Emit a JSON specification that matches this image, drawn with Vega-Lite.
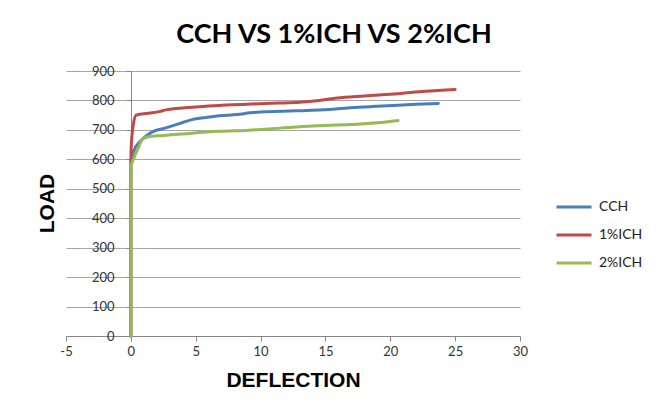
{
  "$schema": "https://vega.github.io/schema/vega-lite/v6.json",
  "width": 454,
  "height": 265,
  "autosize": "none",
  "padding": {"left": 66, "top": 71, "right": 145, "bottom": 75},
  "background": "white",
  "config": {
    "view": {"stroke": null},
    "font": "Lato"
  },
  "title": {
    "text": "CCH VS 1%ICH VS 2%ICH",
    "font": "Lato",
    "fontSize": 27,
    "fontWeight": "bold",
    "color": "#000000",
    "anchor": "middle",
    "frame": "group",
    "dx": 41,
    "offset": 16
  },
  "data": {
    "values": [
      {"series": "CCH", "i": 0, "x": 0, "y": 0},
      {"series": "CCH", "i": 1, "x": 0, "y": 580},
      {"series": "CCH", "i": 2, "x": 0.1, "y": 610},
      {"series": "CCH", "i": 3, "x": 0.2, "y": 626},
      {"series": "CCH", "i": 4, "x": 0.7, "y": 660},
      {"series": "CCH", "i": 5, "x": 1.2, "y": 680},
      {"series": "CCH", "i": 6, "x": 1.7, "y": 694},
      {"series": "CCH", "i": 7, "x": 2.7, "y": 707},
      {"series": "CCH", "i": 8, "x": 3.8, "y": 722},
      {"series": "CCH", "i": 9, "x": 4.7, "y": 735},
      {"series": "CCH", "i": 10, "x": 5.8, "y": 742},
      {"series": "CCH", "i": 11, "x": 6.8, "y": 748},
      {"series": "CCH", "i": 12, "x": 8.2, "y": 752},
      {"series": "CCH", "i": 13, "x": 9.2, "y": 758},
      {"series": "CCH", "i": 14, "x": 10, "y": 761},
      {"series": "CCH", "i": 15, "x": 11.7, "y": 763},
      {"series": "CCH", "i": 16, "x": 13, "y": 765},
      {"series": "CCH", "i": 17, "x": 14.8, "y": 768},
      {"series": "CCH", "i": 18, "x": 16.9, "y": 775},
      {"series": "CCH", "i": 19, "x": 18.5, "y": 779},
      {"series": "CCH", "i": 20, "x": 20.6, "y": 784},
      {"series": "CCH", "i": 21, "x": 22, "y": 787},
      {"series": "CCH", "i": 22, "x": 23.7, "y": 790},
      {"series": "1%ICH", "i": 0, "x": 0, "y": 0},
      {"series": "1%ICH", "i": 1, "x": 0, "y": 590},
      {"series": "1%ICH", "i": 2, "x": 0.05, "y": 660},
      {"series": "1%ICH", "i": 3, "x": 0.2, "y": 720},
      {"series": "1%ICH", "i": 4, "x": 0.4, "y": 750},
      {"series": "1%ICH", "i": 5, "x": 1, "y": 755},
      {"series": "1%ICH", "i": 6, "x": 1.65, "y": 758},
      {"series": "1%ICH", "i": 7, "x": 2.2, "y": 762},
      {"series": "1%ICH", "i": 8, "x": 2.7, "y": 768},
      {"series": "1%ICH", "i": 9, "x": 4.2, "y": 775},
      {"series": "1%ICH", "i": 10, "x": 6.8, "y": 783},
      {"series": "1%ICH", "i": 11, "x": 9.3, "y": 788},
      {"series": "1%ICH", "i": 12, "x": 11.4, "y": 791},
      {"series": "1%ICH", "i": 13, "x": 13, "y": 794},
      {"series": "1%ICH", "i": 14, "x": 14.5, "y": 800},
      {"series": "1%ICH", "i": 15, "x": 15.9, "y": 808},
      {"series": "1%ICH", "i": 16, "x": 18, "y": 815},
      {"series": "1%ICH", "i": 17, "x": 20.6, "y": 823},
      {"series": "1%ICH", "i": 18, "x": 22.7, "y": 831},
      {"series": "1%ICH", "i": 19, "x": 25, "y": 837},
      {"series": "2%ICH", "i": 0, "x": 0, "y": 0},
      {"series": "2%ICH", "i": 1, "x": 0, "y": 580},
      {"series": "2%ICH", "i": 2, "x": 0.1, "y": 590},
      {"series": "2%ICH", "i": 3, "x": 0.5, "y": 632},
      {"series": "2%ICH", "i": 4, "x": 0.9, "y": 668},
      {"series": "2%ICH", "i": 5, "x": 1.2, "y": 675},
      {"series": "2%ICH", "i": 6, "x": 2.5, "y": 681},
      {"series": "2%ICH", "i": 7, "x": 4.2, "y": 687},
      {"series": "2%ICH", "i": 8, "x": 6.8, "y": 695},
      {"series": "2%ICH", "i": 9, "x": 9.1, "y": 699},
      {"series": "2%ICH", "i": 10, "x": 11.5, "y": 706},
      {"series": "2%ICH", "i": 11, "x": 14, "y": 713},
      {"series": "2%ICH", "i": 12, "x": 16.9, "y": 718},
      {"series": "2%ICH", "i": 13, "x": 19, "y": 724},
      {"series": "2%ICH", "i": 14, "x": 20.6, "y": 732}
    ]
  },
  "mark": {"type": "line", "strokeWidth": 3, "strokeJoin": "round", "strokeCap": "round", "interpolate": "monotone"},
  "encoding": {
    "x": {
      "field": "x",
      "type": "quantitative",
      "scale": {"domain": [-5, 30], "nice": false, "zero": false},
      "axis": {
        "title": "DEFLECTION",
        "titleFont": "Liberation Sans",
        "titleFontSize": 21,
        "titleFontWeight": "bold",
        "titleColor": "#000000",
        "titlePadding": 11,
        "values": [-5, 0, 5, 10, 15, 20, 25, 30],
        "labelExpr": "replace(datum.label, '\u2212', '-')",
        "grid": false,
        "domainColor": "#868686",
        "tickColor": "#868686",
        "tickSize": 5,
        "labelFont": "Lato",
        "labelFontSize": 13,
        "labelColor": "#333333",
        "labelPadding": 4,
        "labelFlush": false
      }
    },
    "y": {
      "field": "y",
      "type": "quantitative",
      "scale": {"domain": [0, 900], "nice": false},
      "axis": {
        "title": "LOAD",
        "titleFont": "Liberation Sans",
        "titleFontSize": 21,
        "titleFontWeight": "bold",
        "titleColor": "#000000",
        "titleX": -84,
        "titleY": 132,
        "titleAngle": 270,
        "titleAlign": "center",
        "titleBaseline": "middle",
        "offset": -65,
        "values": [0, 100, 200, 300, 400, 500, 600, 700, 800, 900],
        "grid": true,
        "gridColor": "#a6a6a6",
        "gridWidth": 1,
        "domainColor": "#868686",
        "tickColor": "#868686",
        "tickSize": 5,
        "labelFont": "Lato",
        "labelFontSize": 13,
        "labelColor": "#333333",
        "labelPadding": 12
      }
    },
    "color": {
      "field": "series",
      "type": "nominal",
      "scale": {"domain": ["CCH", "1%ICH", "2%ICH"], "range": ["#4a7ebb", "#be4b48", "#98b954"]},
      "legend": {
        "title": null,
        "orient": "none",
        "legendX": 489,
        "legendY": 117,
        "symbolType": "stroke",
        "symbolSize": 1225,
        "symbolStrokeWidth": 3,
        "labelFont": "Lato",
        "labelFontSize": 14,
        "labelColor": "#222222",
        "labelOffset": 6,
        "rowPadding": 2,
        "padding": 0
      }
    },
    "order": {"field": "i", "type": "quantitative"}
  }
}
